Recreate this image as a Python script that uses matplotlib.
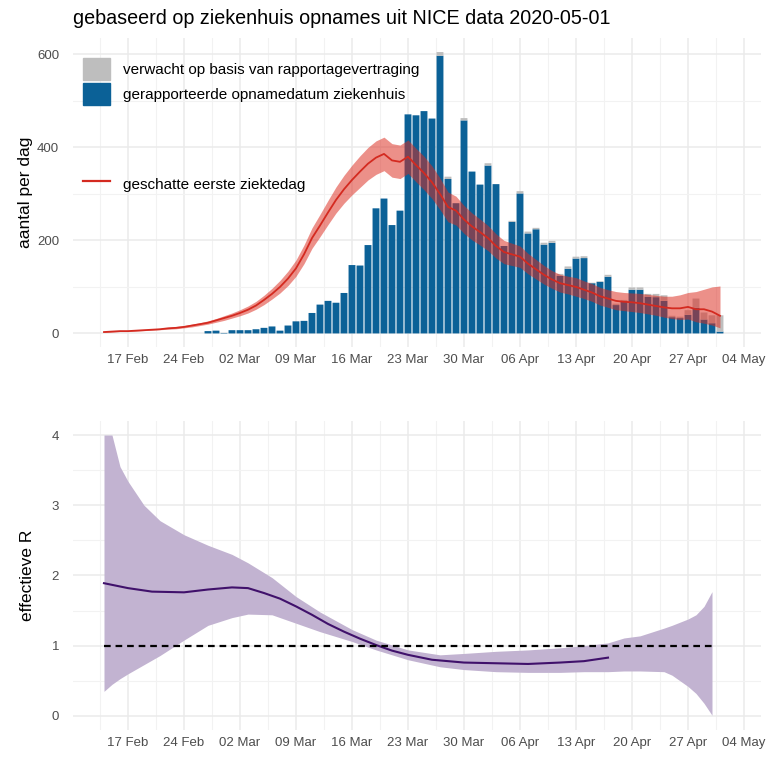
import numpy as np
import pandas as pd
import matplotlib
matplotlib.use("Agg")
import matplotlib.pyplot as plt
import matplotlib.dates as mdates
from matplotlib.patches import Patch
from matplotlib.lines import Line2D

plt.rcParams["font.family"] = ["Liberation Sans", "DejaVu Sans"]

# hospital admissions per day, 27 Feb .. 1 May
bar_dates = pd.date_range("2020-02-27", "2020-05-01", freq="D")
reported = [
    5, 6, 1,
    7, 7, 7, 9, 12, 15, 6, 17, 26, 27,
    44, 62, 70, 66, 87, 147, 146, 190, 269, 290,
    233, 264, 471, 469, 478, 462, 597, 332, 280, 458, 348,
    320, 361, 321, 188, 240, 301, 215, 224, 191, 195,
    124, 139, 161, 162, 108, 111, 122, 61, 69, 94,
    94, 79, 78, 70, 35, 33, 40, 55, 30, 22,
    4,
]
expected_extra = [
    0, 0, 0,
    0, 0, 0, 0, 0, 0, 0, 0, 0, 0,
    0, 0, 0, 0, 0, 0, 0, 0, 0, 0,
    0, 0, 0, 0, 0, 0, 8, 5, 0, 5, 0,
    0, 5, 0, 0, 2, 5, 4, 3, 4, 4,
    4, 5, 4, 4, 1, 1, 4, 3, 3, 5,
    5, 6, 7, 12, 3, 3, 10, 20, 15, 17,
    35,
]

# estimated first day of illness, 14 Feb .. 1 May
onset_dates = pd.date_range("2020-02-14", "2020-05-01", freq="D")
onset_mid = [
    3, 4, 5, 5, 6, 7, 8, 9, 11, 12, 14, 17, 20, 23, 28, 33,
    38, 44, 51, 60, 72, 85, 100, 118, 140, 170, 205, 232, 260, 287, 310,
    330, 348, 365, 378, 386, 372, 369, 380, 362, 345, 325, 300, 272, 264, 245, 230,
    218, 205, 188, 175, 170, 165, 150, 138, 126, 116, 108, 104, 100, 94, 88,
    80, 75, 70, 68, 67, 65, 62, 59, 56, 54, 54, 57, 52, 52, 47,
    38,
]
onset_lo = [
    2, 3, 4, 4, 5, 6, 7, 8, 9, 10, 12, 14, 17, 20, 24, 28,
    33, 38, 44, 52, 62, 74, 87, 103, 123, 150, 183, 208, 234, 259, 280,
    298, 314, 330, 342, 350, 336, 333, 344, 326, 309, 290, 266, 240, 233, 215, 201,
    190, 178, 162, 150, 146, 142, 128, 117, 106, 97, 89, 85, 80, 75, 69,
    61, 56, 51, 49, 47, 45, 42, 39, 35, 32, 30, 31, 25, 22, 18,
    12,
]
onset_hi = [
    4, 5, 6, 6, 7, 8, 10, 11, 13, 15, 17, 20, 23, 27, 32, 38,
    44, 51, 59, 69, 82, 97, 114, 134, 158, 190, 227, 256, 286, 315, 340,
    362, 382, 400, 414, 422, 408, 405, 416, 398, 381, 360, 334, 304, 295, 275, 259,
    246, 232, 214, 200, 194, 188, 172, 159, 146, 135, 127, 123, 120, 113, 107,
    99, 94, 90, 88, 87, 86, 84, 82, 80, 80, 83, 88, 90, 95, 100,
    102,
]

# effective reproduction number
r_dates = pd.to_datetime([
    "2020-02-14", "2020-02-17", "2020-02-20", "2020-02-24", "2020-02-27",
    "2020-03-01", "2020-03-03", "2020-03-05", "2020-03-07", "2020-03-09",
    "2020-03-11", "2020-03-13", "2020-03-15", "2020-03-17", "2020-03-19",
    "2020-03-21", "2020-03-23", "2020-03-26", "2020-03-30", "2020-04-03",
    "2020-04-07", "2020-04-11", "2020-04-14", "2020-04-17",
])
r_mid = [1.89, 1.82, 1.77, 1.76, 1.80, 1.83, 1.82, 1.75, 1.67, 1.56,
         1.44, 1.31, 1.20, 1.10, 1.01, 0.93, 0.87, 0.80, 0.76, 0.75,
         0.74, 0.76, 0.78, 0.83]

band_dates = pd.to_datetime([
    "2020-02-14", "2020-02-15", "2020-02-16", "2020-02-17", "2020-02-19",
    "2020-02-21", "2020-02-24", "2020-02-27", "2020-03-01", "2020-03-03",
    "2020-03-06", "2020-03-09", "2020-03-12", "2020-03-16", "2020-03-19",
    "2020-03-23", "2020-03-27", "2020-03-30", "2020-04-03", "2020-04-07",
    "2020-04-11", "2020-04-14", "2020-04-17", "2020-04-19", "2020-04-21",
    "2020-04-24", "2020-04-25", "2020-04-27", "2020-04-28", "2020-04-29",
    "2020-04-30",
])
r_hi = [4.00, 4.00, 3.55, 3.34, 3.00, 2.78, 2.58, 2.43, 2.30, 2.18,
        1.97, 1.70, 1.48, 1.23, 1.08, 0.94, 0.87, 0.89, 0.92, 0.94,
        0.97, 1.00, 1.04, 1.11, 1.14, 1.25, 1.29, 1.38, 1.44, 1.56,
        1.77]
r_lo = [0.35, 0.45, 0.53, 0.60, 0.73, 0.86, 1.08, 1.29, 1.40, 1.45,
        1.44, 1.32, 1.20, 1.06, 0.94, 0.80, 0.70, 0.66, 0.63, 0.62,
        0.62, 0.63, 0.63, 0.64, 0.64, 0.63, 0.58, 0.42, 0.32, 0.18,
        0.01]

title = "gebaseerd op ziekenhuis opnames uit NICE data 2020-05-01"

BLUE = "#0b6197"
GRAY = "#bebebe"
RED = "#d42a20"
LAV = "#c2b3d1"
PURPLE = "#40116b"
TXT = "#4d4d4d"

fig = plt.figure(figsize=(7.74, 7.57), dpi=100)
ax1 = fig.add_axes([0.0943, 0.5411, 0.8889, 0.4092])
ax2 = fig.add_axes([0.0943, 0.0357, 0.8889, 0.4082])

xmin = pd.Timestamp("2020-02-10 03:00")
xmax = pd.Timestamp("2020-05-06 03:00")
midweek = pd.date_range("2020-02-13 12:00", "2020-05-07", freq="7D")


def style(ax):
    ax.set_xlim(xmin, xmax)
    ax.xaxis.set_major_locator(mdates.WeekdayLocator(byweekday=mdates.MO))
    ax.xaxis.set_minor_locator(
        matplotlib.ticker.FixedLocator(mdates.date2num(midweek)))
    ax.xaxis.set_major_formatter(mdates.DateFormatter("%d %b"))
    ax.grid(which="major", color="#ebebeb", linewidth=1.1)
    ax.grid(which="minor", color="#f2f2f2", linewidth=0.8)
    ax.set_axisbelow(True)
    for s in ax.spines.values():
        s.set_visible(False)
    ax.tick_params(which="both", length=0, labelsize=9.5, labelcolor=TXT)
    ax.tick_params(axis="x", pad=5)
    ax.tick_params(axis="y", pad=10)


# top panel
bx = mdates.date2num(bar_dates)
ax1.bar(bx, reported, width=0.86, color=BLUE, zorder=2, snap=False)
ax1.bar(bx, expected_extra, bottom=reported, width=0.86, color=GRAY,
        zorder=2, snap=False)
ox = mdates.date2num(onset_dates)
ax1.fill_between(ox, onset_lo, onset_hi, color="#dc2a1e", alpha=0.52,
                 linewidth=0, zorder=3)
ax1.plot(ox, onset_mid, color=RED, linewidth=1.3, zorder=4)
style(ax1)
ax1.set_ylim(-30, 636)
ax1.set_yticks([0, 200, 400, 600])
ax1.set_yticks([100, 300, 500], minor=True)
ax1.set_ylabel("aantal per dag", fontsize=12.5, color="black", labelpad=3)

leg1 = ax1.legend(
    handles=[Patch(color=GRAY, label="verwacht op basis van rapportagevertraging"),
             Patch(color=BLUE, label="gerapporteerde opnamedatum ziekenhuis")],
    loc="upper left", bbox_to_anchor=(0.015, 0.933), frameon=False,
    fontsize=11, handlelength=1.77, handleheight=1.83, labelspacing=0.17,
    handletextpad=0.8, borderpad=0, borderaxespad=0)
ax1.add_artist(leg1)
ax1.legend(
    handles=[Line2D([], [], color=RED, linewidth=1.6,
                    label="geschatte eerste ziektedag")],
    loc="upper left", bbox_to_anchor=(0.015, 0.562), frameon=False,
    fontsize=11, handlelength=1.77, handleheight=1.83,
    handletextpad=0.8, borderpad=0, borderaxespad=0)

# bottom panel
ax2.fill_between(mdates.date2num(band_dates), r_lo, r_hi, color=LAV,
                 linewidth=0, zorder=2)
ax2.plot(mdates.date2num(r_dates), r_mid, color=PURPLE, linewidth=1.5, zorder=3)
ax2.plot([mdates.date2num(band_dates[0]), mdates.date2num(band_dates[-1])],
         [1, 1], color="black", linestyle=(0, (3, 2.2)), linewidth=1.6, zorder=4)
style(ax2)
ax2.set_ylim(-0.2, 4.2)
ax2.set_yticks([0, 1, 2, 3, 4])
ax2.set_yticks([0.5, 1.5, 2.5, 3.5], minor=True)
ax2.set_ylabel("effectieve R", fontsize=12.5, color="black", labelpad=12)

fig.text(73 / 774, 1 - 19 / 757, title, fontsize=14.2, ha="left", va="center")

fig.savefig("out.png", dpi=100)
